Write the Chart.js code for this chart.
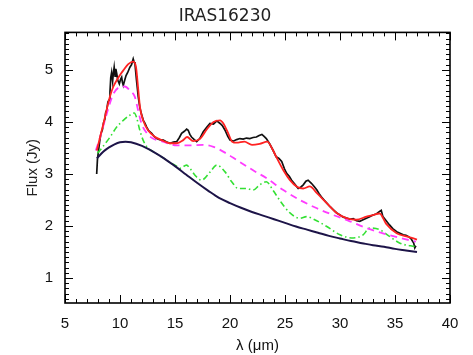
<!DOCTYPE html>
<html>
<head>
<meta charset="utf-8">
<script src="https://cdn.jsdelivr.net/npm/chart.js@4.4.1/dist/chart.umd.min.js"></script>
<style>
html, body { margin: 0; padding: 0; background: #fff; }
</style>
</head>
<body>
<canvas id="sedChart" width="473" height="355"></canvas>
<script>
// observed spectrum (black)
const specWave = [7.88, 7.95, 8.05, 8.15, 8.27, 8.4, 8.5, 8.62, 8.7, 8.79, 8.9, 9.0, 9.09, 9.16, 9.24, 9.33, 9.39, 9.47, 9.55, 9.62, 9.7, 9.8, 9.94, 10.05, 10.15, 10.22, 10.3, 10.4, 10.55, 10.7, 10.9, 11.05, 11.2, 11.28, 11.36, 11.5, 11.66, 11.8, 11.95, 12.12, 12.25, 12.43, 12.6, 12.88, 13.1, 13.33, 13.6, 13.94, 14.2, 14.55, 14.85, 15.15, 15.4, 15.6, 15.85, 16.06, 16.2, 16.35, 16.5, 16.75, 16.97, 17.25, 17.57, 17.9, 18.18, 18.5, 18.8, 19.1, 19.3, 19.55, 19.8, 20.0, 20.3, 20.6, 20.9, 21.2, 21.5, 21.8, 22.1, 22.4, 22.65, 22.9, 23.1, 23.3, 23.6, 23.9, 24.2, 24.45, 24.7, 24.95, 25.15, 25.4, 25.6, 25.9, 26.2, 26.45, 26.66, 26.9, 27.1, 27.4, 27.65, 27.9, 28.1, 28.3, 28.55, 28.8, 29.1, 29.4, 29.7, 30.0, 30.3, 30.6, 30.9, 31.2, 31.5, 31.8, 32.1, 32.4, 32.7, 33.0, 33.3, 33.6, 33.75, 33.9, 34.2, 34.5, 34.8, 35.15, 35.45, 35.75, 36.0, 36.2, 36.45, 36.7, 36.8, 36.9];
const specFlux = [3.00, 3.28, 3.45, 3.62, 3.78, 3.85, 3.98, 4.05, 4.18, 4.22, 4.38, 4.42, 4.58, 4.85, 4.95, 4.78, 4.92, 5.05, 4.88, 5.02, 4.93, 4.80, 4.73, 4.82, 4.86, 4.76, 4.70, 4.78, 4.89, 4.95, 5.05, 5.10, 5.21, 5.15, 5.12, 4.80, 4.48, 4.28, 4.15, 4.03, 3.98, 3.90, 3.83, 3.78, 3.72, 3.68, 3.66, 3.65, 3.62, 3.59, 3.61, 3.62, 3.70, 3.78, 3.82, 3.86, 3.84, 3.76, 3.71, 3.66, 3.62, 3.68, 3.81, 3.90, 3.97, 3.96, 4.02, 3.97, 3.93, 3.84, 3.72, 3.65, 3.63, 3.66, 3.68, 3.67, 3.69, 3.68, 3.70, 3.71, 3.74, 3.76, 3.72, 3.68, 3.58, 3.46, 3.33, 3.30, 3.24, 3.10, 3.01, 2.95, 2.88, 2.80, 2.72, 2.75, 2.79, 2.86, 2.88, 2.82, 2.76, 2.69, 2.62, 2.56, 2.50, 2.44, 2.37, 2.31, 2.25, 2.21, 2.17, 2.15, 2.13, 2.14, 2.10, 2.09, 2.12, 2.15, 2.18, 2.21, 2.23, 2.28, 2.30, 2.18, 2.10, 2.02, 1.95, 1.89, 1.86, 1.83, 1.82, 1.80, 1.76, 1.67, 1.58, 1.62];

// total model (red)
const modelWave = [7.9, 8.2, 8.5, 8.8, 9.1, 9.4, 9.7, 10.0, 10.3, 10.75, 11.2, 11.45, 11.66, 11.82, 12.1, 12.55, 13.2, 13.8, 14.5, 15.15, 15.75, 16.1, 16.65, 17.3, 17.9, 18.5, 19.1, 19.4, 19.8, 20.2, 20.6, 21.3, 22.0, 22.7, 23.4, 23.8, 24.2, 24.85, 25.45, 26.05, 26.65, 27.25, 27.9, 28.8, 29.7, 30.6, 31.5, 32.4, 33.0, 33.6, 34.2, 35.15, 36.05, 37.0];
const modelFlux = [3.45, 3.72, 3.97, 4.25, 4.50, 4.68, 4.80, 4.90, 4.99, 5.11, 5.16, 5.06, 4.62, 4.28, 4.03, 3.84, 3.71, 3.65, 3.59, 3.59, 3.65, 3.71, 3.63, 3.68, 3.86, 4.00, 4.03, 3.97, 3.80, 3.62, 3.60, 3.62, 3.56, 3.58, 3.62, 3.50, 3.33, 3.07, 2.88, 2.76, 2.72, 2.76, 2.63, 2.44, 2.25, 2.15, 2.12, 2.18, 2.21, 2.24, 2.04, 1.86, 1.80, 1.74];

// magenta dashed component
const magWave = [7.8, 8.2, 8.8, 9.4, 10.0, 10.45, 10.9, 11.35, 11.65, 11.95, 12.45, 13.0, 13.9, 15.15, 16.35, 17.55, 18.5, 19.7, 20.6, 22.1, 23.3, 24.85, 26.35, 27.9, 29.4, 30.9, 32.4, 33.9, 35.45, 36.9];
const magFlux = [3.45, 3.71, 4.16, 4.54, 4.67, 4.68, 4.60, 4.48, 4.22, 3.97, 3.78, 3.68, 3.62, 3.55, 3.55, 3.56, 3.52, 3.39, 3.27, 3.07, 2.92, 2.69, 2.50, 2.34, 2.21, 2.09, 1.96, 1.86, 1.77, 1.70];

// green dash-dot component
const greenWave = [7.95, 8.2, 9.1, 9.7, 10.3, 10.9, 11.3, 11.5, 11.8, 12.1, 12.45, 13.0, 14.0, 14.55, 15.15, 15.45, 16.05, 16.35, 16.8, 17.4, 18.2, 18.8, 19.55, 20.15, 20.75, 21.5, 22.1, 22.7, 23.3, 23.9, 24.5, 25.45, 26.35, 26.95, 27.7, 28.8, 30.0, 31.2, 32.1, 32.7, 33.6, 34.5, 35.45, 36.9];
const greenFlux = [3.40, 3.46, 3.71, 3.90, 4.03, 4.13, 4.17, 4.09, 3.84, 3.65, 3.52, 3.43, 3.30, 3.22, 3.15, 3.11, 3.17, 3.11, 2.98, 2.88, 3.04, 3.17, 3.04, 2.85, 2.72, 2.72, 2.69, 2.79, 2.85, 2.69, 2.50, 2.25, 2.15, 2.18, 2.12, 1.99, 1.83, 1.77, 1.83, 1.96, 1.93, 1.80, 1.67, 1.60];

// continuum (dark navy)
const contWave = [7.9, 8.5, 9, 9.5, 10, 10.5, 11, 12, 13, 14, 15, 16, 17, 18, 19, 20, 21, 22, 23, 24, 25, 26, 27, 28, 29, 30, 31, 32, 33, 34, 35, 36, 37];
const contFlux = [3.30, 3.43, 3.51, 3.57, 3.61, 3.62, 3.61, 3.54, 3.43, 3.30, 3.15, 2.99, 2.83, 2.68, 2.54, 2.44, 2.35, 2.27, 2.20, 2.13, 2.06, 1.99, 1.93, 1.87, 1.81, 1.76, 1.71, 1.67, 1.63, 1.60, 1.56, 1.53, 1.50];

const xMin = 5, xMax = 40;
const yMin = 0.52, yMax = 5.72;
const yTicks = [1, 2, 3, 4, 5];

function pts(xs, ys) {
    return xs.map((v, i) => ({ x: v, y: ys[i] }));
}

// IDL-style box with inward ticks on all four sides
const frameTicks = {
    id: 'frameTicks',
    afterDatasetsDraw(chart) {
        const { ctx, chartArea: a, scales: { x, y } } = chart;
        ctx.save();
        ctx.strokeStyle = '#000';
        ctx.lineWidth = 1;
        ctx.beginPath();
        for (let v = xMin; v <= xMax; v++) {
            const px = Math.round(x.getPixelForValue(v)) + 0.5;
            const len = v % 5 === 0 ? 8 : 4;
            ctx.moveTo(px, a.bottom); ctx.lineTo(px, a.bottom - len);
            ctx.moveTo(px, a.top); ctx.lineTo(px, a.top + len);
        }
        for (let i = Math.ceil(yMin * 10); i <= Math.floor(yMax * 10); i++) {
            const py = Math.round(y.getPixelForValue(i / 10)) + 0.5;
            const len = i % 10 === 0 ? 8 : 4;
            ctx.moveTo(a.left, py); ctx.lineTo(a.left + len, py);
            ctx.moveTo(a.right, py); ctx.lineTo(a.right - len, py);
        }
        ctx.stroke();
        ctx.lineWidth = 1.6;
        ctx.strokeRect(a.left, a.top, a.right - a.left, a.bottom - a.top);
        ctx.restore();
    }
};

const labelFont = { family: 'Liberation Sans, Arial, sans-serif', size: 15 };

const ctx = document.getElementById('sedChart').getContext('2d');
new Chart(ctx, {
    type: 'line',
    data: {
        datasets: [
            {
                label: 'continuum',
                data: pts(contWave, contFlux),
                borderColor: '#1d1448',
                borderWidth: 2,
                cubicInterpolationMode: 'monotone',
                pointRadius: 0
            },
            {
                label: 'model',
                data: pts(modelWave, modelFlux),
                borderColor: '#ff2222',
                borderWidth: 1.8,
                cubicInterpolationMode: 'monotone',
                pointRadius: 0
            },
            {
                label: 'component 1',
                data: pts(magWave, magFlux),
                borderColor: '#ff3cff',
                borderWidth: 1.8,
                borderDash: [7, 5],
                cubicInterpolationMode: 'monotone',
                pointRadius: 0
            },
            {
                label: 'component 2',
                data: pts(greenWave, greenFlux),
                borderColor: '#33e033',
                borderWidth: 1.6,
                borderDash: [6, 3, 1.5, 3],
                cubicInterpolationMode: 'monotone',
                pointRadius: 0
            },
            {
                label: 'IRS spectrum',
                data: pts(specWave, specFlux),
                borderColor: '#111111',
                borderWidth: 1.7,
                tension: 0,
                pointRadius: 0
            }
        ]
    },
    options: {
        responsive: false,
        animation: false,
        layout: {
            padding: { left: 0, right: 23, top: 0, bottom: 0 }
        },
        plugins: {
            legend: { display: false },
            tooltip: { enabled: false },
            title: {
                display: true,
                text: 'IRAS16230',
                color: '#222',
                font: { family: 'DejaVu Sans, sans-serif', size: 17, weight: 'normal' },
                padding: { top: 6, bottom: 6 }
            }
        },
        scales: {
            x: {
                type: 'linear',
                min: xMin,
                max: xMax,
                grid: { display: false, drawTicks: false },
                border: { display: false },
                ticks: {
                    stepSize: 5,
                    color: '#111',
                    padding: 12,
                    font: labelFont
                },
                title: {
                    display: true,
                    text: 'λ (μm)',
                    color: '#111',
                    padding: { top: 2, bottom: 0 },
                    font: labelFont
                },
                afterFit(scale) { scale.height = 52; }
            },
            y: {
                min: yMin,
                max: yMax,
                grid: { display: false, drawTicks: false },
                border: { display: false },
                afterBuildTicks(scale) {
                    scale.ticks = yTicks.map(v => ({ value: v }));
                },
                ticks: {
                    color: '#111',
                    padding: 12,
                    font: labelFont
                },
                title: {
                    display: true,
                    text: 'Flux (Jy)',
                    color: '#222',
                    padding: { top: 24, bottom: 0 },
                    font: labelFont
                },
                afterFit(scale) { scale.width = 65; }
            }
        }
    },
    plugins: [frameTicks]
});
</script>
</body>
</html>
